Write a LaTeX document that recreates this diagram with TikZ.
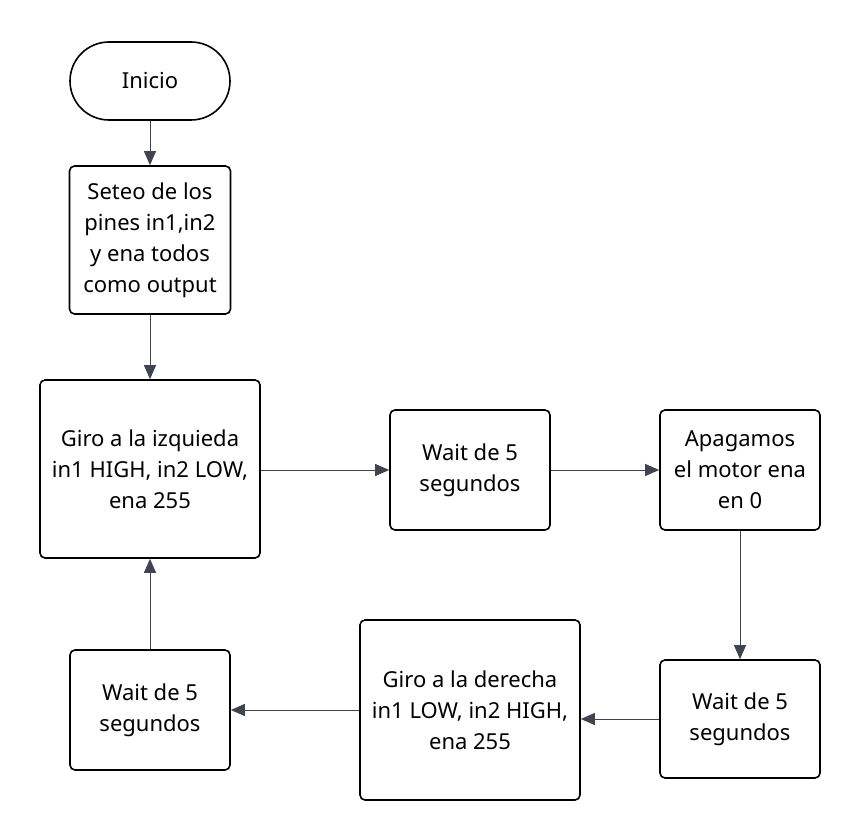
\documentclass[tikz,border=0pt]{standalone}
\usepackage{fontspec}
\setmainfont{Noto Sans}
\usetikzlibrary{arrows.meta}
\definecolor{linkgray}{HTML}{3F4451}
\tikzset{
  stepbox/.style={draw=black, line width=1.6pt, rounded corners=5pt, align=center,
    inner sep=0pt, font=\fontsize{22}{31}\selectfont},
  startbox/.style={stepbox, rounded corners=39pt},
  link/.style={draw=linkgray, line width=1pt, -{Triangle[length=14pt,width=12pt]}}
}
\begin{document}
\begin{tikzpicture}[x=1pt,y=-1pt]
  \useasboundingbox (0,0) rectangle (860,840);
  \node[startbox, minimum width=160pt, minimum height=78pt] (start) at (150,81) {Inicio};
  \node[stepbox, minimum width=161pt, minimum height=148pt] (setup) at (150,240) {Seteo de los\\pines in1,in2\\y ena todos\\como output};
  \node[stepbox, minimum width=220pt, minimum height=178pt] (left) at (150,469) {Giro a la izquieda\\in1 HIGH, in2 LOW,\\ena 255};
  \node[stepbox, minimum width=160pt, minimum height=120pt] (waita) at (470,470) {Wait de 5\\segundos};
  \node[stepbox, minimum width=160pt, minimum height=120pt] (stop) at (740,470) {Apagamos\\el motor ena\\en 0};
  \node[stepbox, minimum width=160pt, minimum height=118pt] (waitb) at (740,719) {Wait de 5\\segundos};
  \node[stepbox, minimum width=220pt, minimum height=180pt] (right) at (470,710) {Giro a la derecha\\in1 LOW, in2 HIGH,\\ena 255};
  \node[stepbox, minimum width=160pt, minimum height=120pt] (waitc) at (150,710) {Wait de 5\\segundos};
  \draw[link] (start) -- (setup);
  \draw[link] (setup) -- (left);
  \draw[link] (left.east |- waita.west) -- (waita.west);
  \draw[link] (waita) -- (stop);
  \draw[link] (stop) -- (waitb);
  \draw[link] (waitb.west) -- (waitb.west -| right.east);
  \draw[link] (right) -- (waitc);
  \draw[link] (waitc) -- (left);
\end{tikzpicture}
\end{document}
